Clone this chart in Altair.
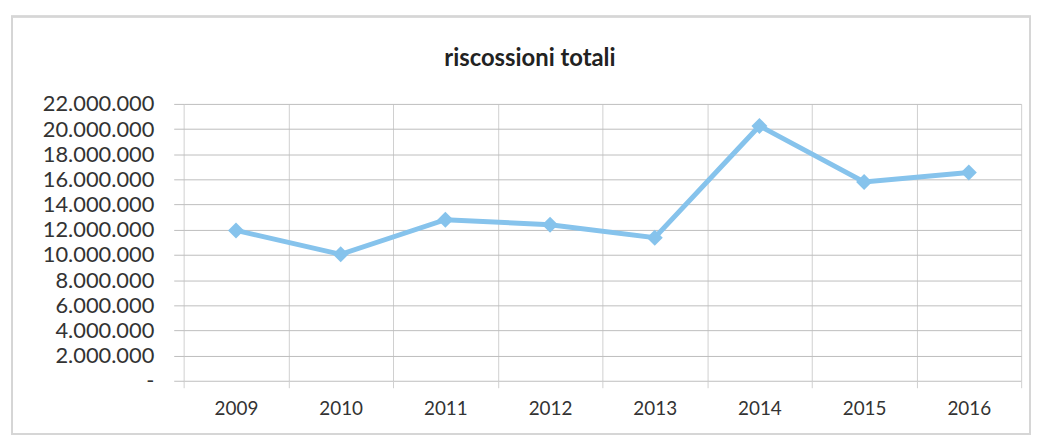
import altair as alt
import pandas as pd

years = ["2009", "2010", "2011", "2012", "2013", "2014", "2015", "2016"]
values = [11950000, 10050000, 12800000, 12400000, 11370000, 20250000, 15800000, 16550000]
y_ticks = [0, 2000000, 4000000, 6000000, 8000000, 10000000, 12000000, 14000000,
           16000000, 18000000, 20000000, 22000000]
title_text = ["riscossioni totali"]

df = pd.DataFrame({"anno": years, "valore": values})

FONT = "Lato"
x_enc = alt.X("anno:N", scale=alt.Scale(type="band", paddingInner=0, paddingOuter=0),
              axis=alt.Axis(title=None, labelAngle=0, tickBand="extent", grid=True,
                            gridColor="#d0d0d0", tickColor="#d0d0d0", tickSize=7,
                            domain=False, labelFontSize=19, labelColor="#333333",
                            labelFont=FONT, labelPadding=12))
y_enc = alt.Y("valore:Q", scale=alt.Scale(domain=[0, 22000000], nice=False),
              axis=alt.Axis(title=None, values=y_ticks, tickCount=12, grid=True, gridColor="#bdbdbd",
                            tickColor="#bdbdbd", tickSize=10, domain=False,
                            labelFontSize=22, labelColor="#333333", labelFont=FONT,
                            labelPadding=20, labelOverlap=False,
                            labelExpr="datum.value == 0 ? '-' : replace(format(datum.value, ','), regexp(',', 'g'), '.')"))

base = alt.Chart(df)
line = base.mark_line(color="#86c3ec", strokeWidth=5).encode(x=x_enc, y=y_enc)
pts = base.mark_point(shape="diamond", filled=True, color="#86c3ec", size=260, opacity=1).encode(
    x=x_enc, y=y_enc)

frame = alt.Chart(df).mark_rect(fill=None, stroke="#d6d6d6", strokeWidth=1.5, clip=False).encode(
    x=alt.value(-173), x2=alt.value(853), y=alt.value(-88), y2=alt.value(333))

title = alt.Chart(pd.DataFrame({"t": title_text})).mark_text(
    font=FONT, fontSize=24, fontWeight="bold", color="#222222", align="center",
    baseline="middle").encode(text="t:N", x=alt.value(-73 + 422), y=alt.value(-45))

chart = alt.layer(frame, line, pts, title).properties(
    width=844, height=279,
    autosize=alt.AutoSizeParams(type="none"),
    padding={"left": 177, "top": 95, "right": 19, "bottom": 53},
).configure_view(stroke=None)

chart.save("out.html", embed_options={"renderer": "svg", "actions": False})
